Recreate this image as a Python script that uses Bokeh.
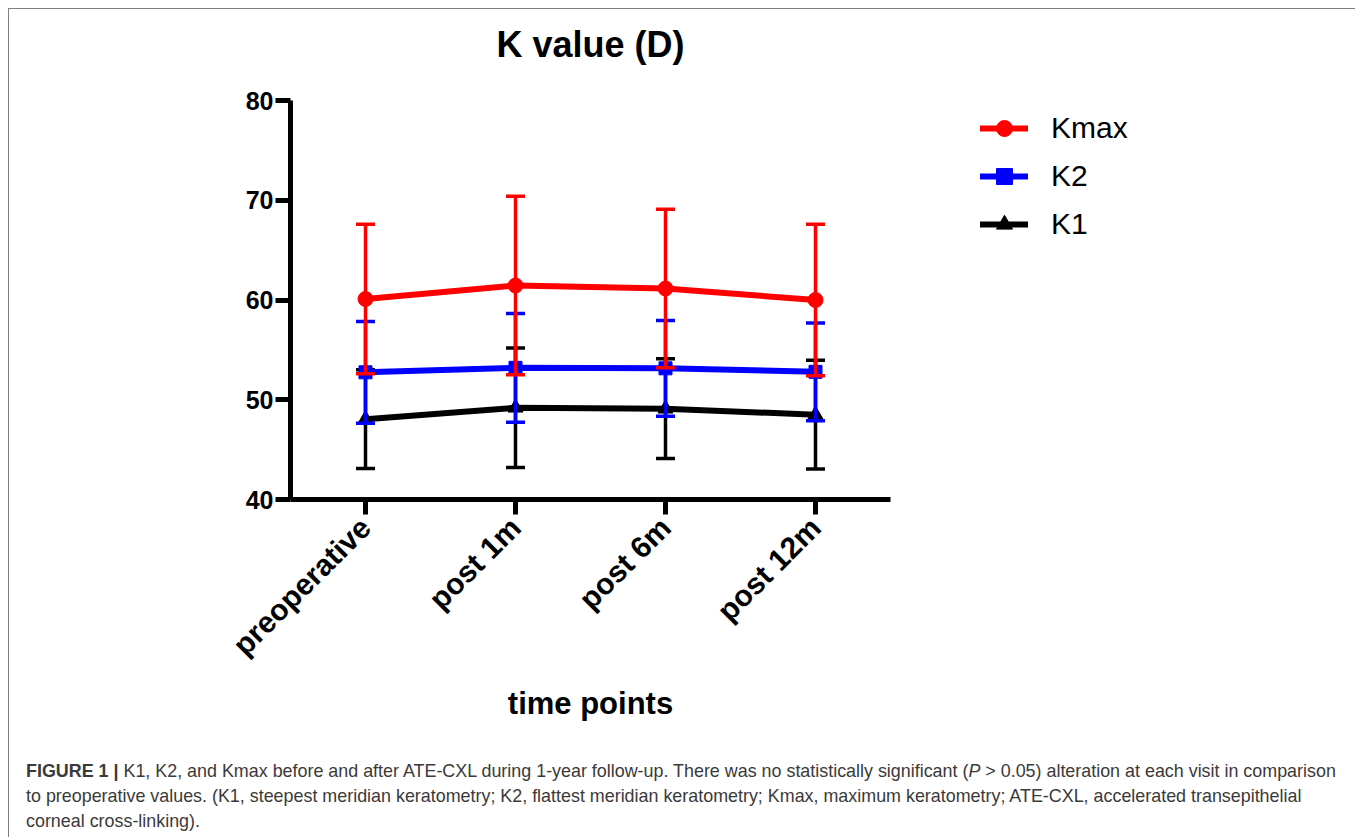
from math import pi
from bokeh.plotting import figure
from bokeh.models import FactorRange, Range1d, Legend, LegendItem, Div, FixedTicker, ColumnDataSource, Title
from bokeh.layouts import column
from bokeh.embed import file_html
from bokeh.resources import INLINE

categories = ["preoperative", "post 1m", "post 6m", "post 12m"]
kmax_mean = [60.1, 61.45, 61.15, 60.0]
kmax_sd = [7.5, 8.95, 7.95, 7.6]
k2_mean = [52.75, 53.2, 53.15, 52.8]
k2_sd = [5.1, 5.45, 4.8, 4.9]
k1_mean = [48.05, 49.2, 49.1, 48.5]
k1_sd = [4.95, 6.0, 5.0, 5.45]
y_ticks = [40, 50, 60, 70, 80]

FONT = "Liberation Sans"

p = figure(x_range=FactorRange(*categories), y_range=Range1d(40, 80),
           frame_width=600, frame_height=399, output_backend="svg", toolbar_location=None,
           min_border_left=281, min_border_right=0, min_border_top=91, min_border_bottom=255)
p.xgrid.visible = False
p.ygrid.visible = False
p.outline_line_color = None
p.background_fill_color = "white"
p.border_fill_color = "white"

# real title (outermost) and a blank spacer between it and the frame
p.title.text = "K value (D)"
p.title.align = "center"
p.title.text_font = FONT
p.title.text_font_size = "36px"
p.title.text_font_style = "bold"
p.title.text_color = "black"
p.title.standoff = 0
p.add_layout(Title(text="\u00a0", text_font_size="1px", standoff=33), "above")

ya = p.yaxis[0]
ya.ticker = FixedTicker(ticks=y_ticks)
ya.axis_line_width = 5
ya.major_tick_line_width = 5
ya.major_tick_out = 15
ya.major_tick_in = 0
ya.minor_tick_line_color = None
ya.major_label_text_font = FONT
ya.major_label_text_font_style = "bold"
ya.major_label_text_font_size = "25px"
ya.major_label_text_color = "black"
ya.major_label_standoff = 2

xa = p.xaxis[0]
xa.axis_line_width = 5
xa.major_tick_line_width = 5
xa.major_tick_out = 15
xa.major_tick_in = 0
xa.major_label_orientation = pi / 4
xa.major_label_text_font = FONT
xa.major_label_text_font_style = "bold"
xa.major_label_text_font_size = "30px"
xa.major_label_text_color = "black"
xa.major_label_standoff = 8
xa.axis_label = "time points"
xa.axis_label_text_font = FONT
xa.axis_label_text_font_style = "bold"
xa.axis_label_text_font_size = "31px"
xa.axis_label_text_color = "black"
xa.axis_label_standoff = 10

series = [
    ("K1", k1_mean, k1_sd, "black", "triangle", 15),
    ("K2", k2_mean, k2_sd, "#0000FF", "square", 13),
    ("Kmax", kmax_mean, kmax_sd, "#FF0000", "circle", 15),
]
legend_map = {}
for name, mean, sd, color, marker, size in series:
    lower = [m - s for m, s in zip(mean, sd)]
    upper = [m + s for m, s in zip(mean, sd)]
    src = ColumnDataSource(dict(x=categories, y=mean, lo=lower, hi=upper))
    p.segment(x0="x", y0="lo", x1="x", y1="hi", source=src, line_color=color, line_width=3.5)
    p.scatter(x="x", y="hi", source=src, marker="dash", size=19, line_color=color, line_width=3.5)
    p.scatter(x="x", y="lo", source=src, marker="dash", size=19, line_color=color, line_width=3.5)
    lr = p.line(x="x", y="y", source=src, line_color=color, line_width=6, line_cap="round", line_join="round")
    mr = p.scatter(x="x", y="y", source=src, marker=marker, size=size, fill_color=color, line_color=color)
    legend_map[name] = [lr, mr]

legend = Legend(items=[LegendItem(label=n, renderers=legend_map[n]) for n in ["Kmax", "K2", "K1"]],
                location=(90, 255), padding=0, margin=0, spacing=8,
                glyph_width=48, glyph_height=40, label_standoff=23,
                label_text_font=FONT, label_text_font_size="30px", label_text_color="black",
                border_line_color=None, background_fill_alpha=0)
p.add_layout(legend, "right")

caption_html = (
    '<div style="font-family:\'Liberation Sans\';font-size:17.9px;line-height:25px;color:#3a3a3a;'
    'margin-left:12px;white-space:nowrap;">'
    '<b>FIGURE 1 |</b> K1, K2, and Kmax before and after ATE-CXL during 1-year follow-up. '
    'There was no statistically significant (<i>P</i> &gt; 0.05) alteration at each visit in comparison<br>'
    'to preoperative values. (K1, steepest meridian keratometry; K2, flattest meridian keratometry; '
    'Kmax, maximum keratometry; ATE-CXL, accelerated transepithelial<br>'
    'corneal cross-linking).</div>'
)
caption = Div(text=caption_html, width=1330, height=75)

layout = column(p, caption, margin=(8, 0, 0, 8),
                styles={"border-left": "1px solid #7f7f7f", "border-top": "1px solid #7f7f7f"})

open("out.html", "w").write(file_html(layout, INLINE))
